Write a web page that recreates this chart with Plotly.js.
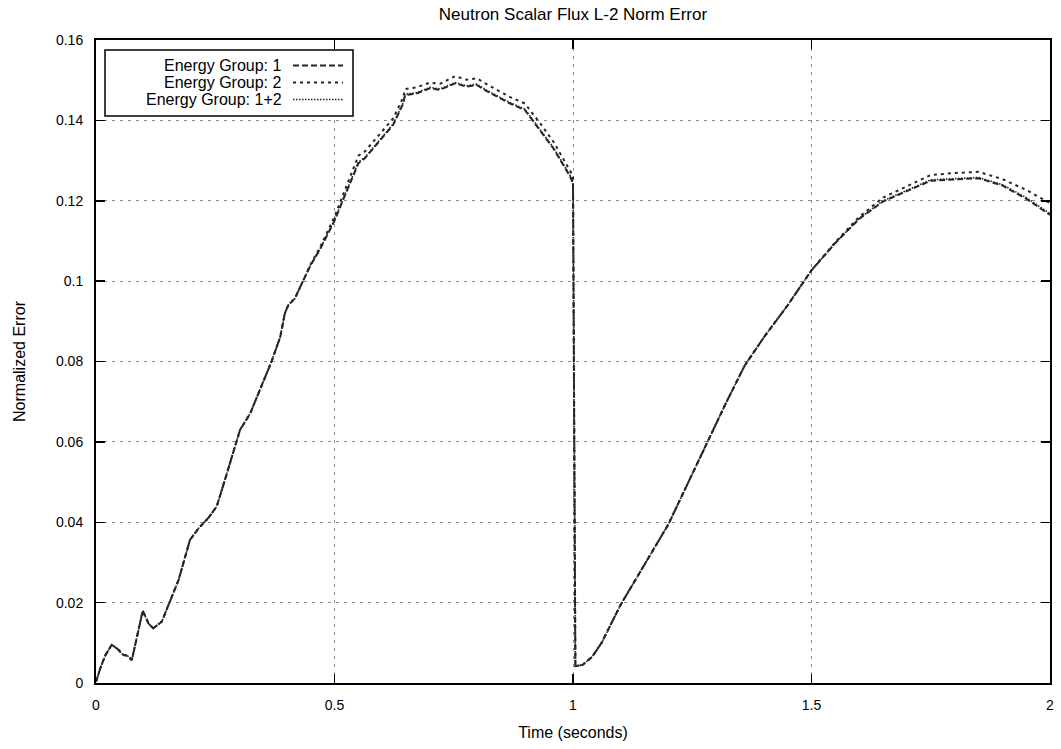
<!DOCTYPE html>
<html>
<head>
<meta charset="utf-8">
<script src="https://cdn.plot.ly/plotly-3.0.1.min.js"></script>
<style>
  html, body { margin: 0; padding: 0; background: #fff; }
  #chart { width: 1061px; height: 749px; }
</style>
</head>
<body>
<div id="chart"></div>
<script>
// Time samples (seconds)
const time = [0, 0.01, 0.02, 0.033, 0.045, 0.057, 0.066, 0.075, 0.085, 0.098,
  0.11, 0.12, 0.138, 0.159, 0.173, 0.197, 0.215, 0.235, 0.253, 0.274,
  0.295, 0.302, 0.323, 0.344, 0.368, 0.386, 0.396, 0.403, 0.417, 0.435,
  0.45, 0.47, 0.5, 0.512, 0.55, 0.564, 0.581, 0.623, 0.644, 0.648,
  0.672, 0.7, 0.721, 0.753, 0.777, 0.798, 0.819, 0.868, 0.899, 0.931,
  0.959, 0.994, 1.0, 1.005, 1.02, 1.04, 1.06, 1.1, 1.15, 1.2,
  1.24, 1.28, 1.32, 1.36, 1.4, 1.45, 1.5, 1.55, 1.6, 1.65,
  1.7, 1.75, 1.8, 1.85, 1.9, 1.95, 2.0];

// Normalized L-2 error, energy group 1
const errGroup1 = [0.0003, 0.004, 0.007, 0.0095, 0.0085, 0.007, 0.0068, 0.0057, 0.011, 0.018,
  0.0148, 0.0136, 0.0153, 0.0215, 0.0256, 0.0356, 0.0385, 0.041, 0.0439, 0.052,
  0.0605, 0.063, 0.067, 0.073, 0.080, 0.086, 0.092, 0.094, 0.0957, 0.1003,
  0.104, 0.108, 0.115, 0.1185, 0.1293, 0.1306, 0.133, 0.1389, 0.1442, 0.1463,
  0.1467, 0.148, 0.1476, 0.1492, 0.1484, 0.1488, 0.1473, 0.1442, 0.1426, 0.1376,
  0.133, 0.126, 0.1243, 0.0042, 0.0045, 0.0065, 0.010, 0.0195, 0.0295, 0.0395,
  0.0495, 0.0595, 0.0695, 0.079, 0.086, 0.094, 0.1027, 0.1095, 0.1155, 0.1198,
  0.1225, 0.125, 0.1253, 0.1256, 0.1238, 0.1205, 0.1165];

// Normalized L-2 error, energy group 2
const errGroup2 = [0.0003, 0.004, 0.007, 0.0095, 0.0085, 0.007, 0.0068, 0.0057, 0.011, 0.018,
  0.0148, 0.0136, 0.0153, 0.0215, 0.0256, 0.0356, 0.0385, 0.041, 0.0439, 0.052,
  0.0605, 0.063, 0.067, 0.073, 0.080, 0.086, 0.092, 0.094, 0.0957, 0.1003,
  0.1042, 0.1085, 0.116, 0.1197, 0.1312, 0.1323, 0.1347, 0.1405, 0.1457, 0.1478,
  0.1482, 0.1494, 0.1491, 0.151, 0.1501, 0.1505, 0.149, 0.1458, 0.1442, 0.1393,
  0.1347, 0.1277, 0.1262, 0.0042, 0.0045, 0.0065, 0.010, 0.0195, 0.0295, 0.0395,
  0.0495, 0.0595, 0.0695, 0.079, 0.086, 0.094, 0.1027, 0.1097, 0.116, 0.1208,
  0.1237, 0.1264, 0.1269, 0.1272, 0.1254, 0.1227, 0.1194];

// Normalized L-2 error, both groups combined
const errGroup12 = [0.0003, 0.004, 0.007, 0.0095, 0.0085, 0.007, 0.0068, 0.0057, 0.011, 0.018,
  0.0148, 0.0136, 0.0153, 0.0215, 0.0256, 0.0356, 0.0385, 0.041, 0.0439, 0.052,
  0.0605, 0.063, 0.067, 0.073, 0.080, 0.086, 0.092, 0.094, 0.0957, 0.1003,
  0.104, 0.1081, 0.1152, 0.1187, 0.1296, 0.1308, 0.1332, 0.1391, 0.1444, 0.1465,
  0.1469, 0.1482, 0.1478, 0.1494, 0.1486, 0.149, 0.1475, 0.1444, 0.1428, 0.1378,
  0.1332, 0.1263, 0.1246, 0.0042, 0.0045, 0.0065, 0.010, 0.0195, 0.0295, 0.0395,
  0.0495, 0.0595, 0.0695, 0.079, 0.086, 0.094, 0.1027, 0.1095, 0.1156, 0.12,
  0.1227, 0.1252, 0.1255, 0.1258, 0.124, 0.1208, 0.1168];

const seriesNames = ['Energy Group: 1', 'Energy Group: 2', 'Energy Group: 1+2'];
const seriesValues = [errGroup1, errGroup2, errGroup12];
const seriesDash = ['6px,3px', '3px,4px', '1.5px,1.5px'];
const seriesWidth = [2, 2, 1.6];
const lineColor = '#262626';

const FONT = 'Liberation Sans, Arial, Helvetica, sans-serif';

const traces = seriesValues.map((vals, i) => ({
  type: 'scatter',
  mode: 'lines',
  name: seriesNames[i],
  x: time,
  y: vals,
  line: { color: lineColor, width: seriesWidth[i], dash: seriesDash[i] },
  showlegend: false,
  hoverinfo: 'skip'
}));

// Key box in the top-left corner: right-aligned labels, line samples to their right
const L = { left: 105, right: 353, top: 50, bottom: 116, textRight: 284,
            sampleLeft: 293, sampleRight: 343, rows: [65.5, 82.5, 99.5] };
const plotBox = { l: 96, r: 1050, t: 40, b: 683 };
const px = v => (v - plotBox.l) / (plotBox.r - plotBox.l);
const py = v => (plotBox.b - v) / (plotBox.b - plotBox.t);

const shapes = [{
  type: 'rect', xref: 'paper', yref: 'paper',
  x0: px(L.left), x1: px(L.right), y0: py(L.bottom), y1: py(L.top),
  line: { color: '#000', width: 1.5 }, fillcolor: '#fff', layer: 'above'
}];
const annotations = [];
seriesNames.forEach((name, i) => {
  shapes.push({
    type: 'line', xref: 'paper', yref: 'paper', layer: 'above',
    x0: px(L.sampleLeft), x1: px(L.sampleRight),
    y0: py(L.rows[i]), y1: py(L.rows[i]),
    line: { color: lineColor, width: seriesWidth[i], dash: seriesDash[i] }
  });
  annotations.push({
    xref: 'paper', yref: 'paper', x: px(L.textRight), y: py(L.rows[i]),
    xanchor: 'right', yanchor: 'middle', showarrow: false,
    text: name, font: { family: FONT, size: 16, color: '#000' }
  });
});

const axisCommon = {
  showline: true, linecolor: '#000', linewidth: 2, mirror: 'allticks',
  ticks: 'inside', ticklen: 9, tickwidth: 1.5, tickcolor: '#000',
  showgrid: true, gridcolor: '#8a8a8a', gridwidth: 1, griddash: '3px,5px',
  zeroline: false, ticklabelstandoff: 8,
  tickfont: { family: FONT, size: 14, color: '#000' }
};

const layout = {
  width: 1061, height: 749,
  paper_bgcolor: '#fff', plot_bgcolor: '#fff',
  margin: { l: 96, r: 11, t: 40, b: 66 },
  title: { text: 'Neutron Scalar Flux L-2 Norm Error',
           font: { family: FONT, size: 17, color: '#000' },
           x: 0.5, xref: 'paper', y: 0.981, yanchor: 'middle' },
  xaxis: Object.assign({}, axisCommon, {
    range: [0, 2], dtick: 0.5, tick0: 0,
    title: { text: 'Time (seconds)', font: { family: FONT, size: 16, color: '#000' }, standoff: 15 }
  }),
  yaxis: Object.assign({}, axisCommon, {
    range: [0, 0.16], dtick: 0.02, tick0: 0,
    title: { text: 'Normalized Error', font: { family: FONT, size: 16, color: '#000' }, standoff: 26 }
  }),
  shapes: shapes,
  annotations: annotations,
  showlegend: false
};

Plotly.newPlot('chart', traces, layout, { staticPlot: true, displayModeBar: false });
</script>
</body>
</html>
